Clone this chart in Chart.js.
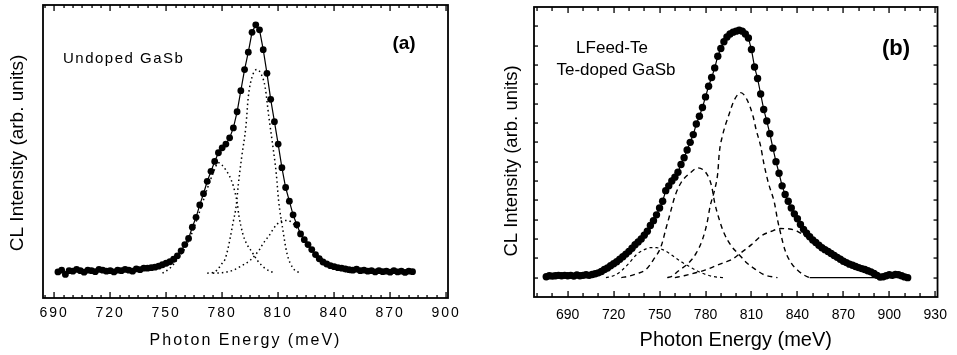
<!DOCTYPE html>
<html>
<head>
<meta charset="utf-8">
<script src="https://cdn.jsdelivr.net/npm/chart.js@4.4.1/dist/chart.umd.min.js"></script>
<style>
  html, body { margin: 0; padding: 0; background: #fff; }
  #wrap { position: relative; width: 957px; height: 355px; }
  canvas { position: absolute; top: 0; }
  #chartA { left: 0; }
  #chartB { left: 478px; }
</style>
</head>
<body>
<div id="wrap">
  <canvas id="chartA" width="478" height="355"></canvas>
  <canvas id="chartB" width="479" height="355"></canvas>
</div>
<script>
// ---- panel (a): undoped GaSb ----
const undopedE = [692,694,696,698,700,702,704,706,708,710,712,714,716,718,720,722,724,726,728,730,
  732,734,736,738,740,742,744,746,748,750,752,754,756,758,760,762,764,766,768,770,
  772,774,776,778,780,782,784,786,788,790,792,794,796,798,800,802,804,806,808,810,
  812,814,816,818,820,822,824,826,828,830,832,834,836,838,840,842,844,846,848,850,
  852,854,856,858,860,862,864,866,868,870,872,874,876,878,880,882];
const undopedCL = [0.05,0.12,-0.05,0.1,0.08,0.15,0.1,0.04,0.12,0.1,0.06,0.15,0.12,0.08,0.1,0.05,0.12,0.1,0.15,0.12,
  0.08,0.17,0.14,0.2,0.2,0.22,0.24,0.28,0.34,0.4,0.46,0.56,0.7,0.9,1.15,1.4,1.85,2.25,2.75,3.2,
  3.7,4.1,4.5,4.85,5.05,5.2,5.45,5.85,6.5,7.35,8.2,8.9,9.7,10.0,9.8,9.0,8.05,7.0,6.1,5.2,
  4.25,3.45,2.9,2.35,1.95,1.58,1.35,1.15,0.95,0.75,0.58,0.45,0.37,0.3,0.26,0.22,0.2,0.17,0.14,0.12,
  0.16,0.1,0.12,0.08,0.1,0.05,0.1,0.06,0.08,0.04,0.1,0.05,0.08,0.03,0.08,0.06];
// fitted bands (dotted)
const bandA1E = [748,752,756,760,764,768,772,775,778,780,782,784,786,788,789,791,793,796,799,803,808];
const bandA1  = [0,0.2,0.55,1.0,1.65,2.5,3.4,4.0,4.45,4.35,4.15,3.9,3.5,2.85,2.3,1.6,1.2,0.85,0.5,0.19,0];
const bandA2E = [772,776,778,780,781.5,783,784.5,786,787.5,788.7,790.5,792.7,794,796,798.6,801,803,805,807,809,810.2,812.5,814.7,818,822];
const bandA2  = [0,0.05,0.19,0.4,0.55,0.95,1.5,2.1,2.7,3.6,4.7,5.9,7.1,7.9,8.2,8.0,7.5,6.3,5.2,4.0,2.95,1.75,0.8,0.2,0];
const bandA3E = [775,780,786,790,795,800,802,805,809,812,815,818,821,824,827,830,834,838,842,846,850];
const bandA3  = [0,0.02,0.12,0.28,0.52,0.95,1.2,1.5,1.94,2.1,2.12,2.0,1.72,1.4,1.1,0.82,0.55,0.32,0.17,0.07,0];
const ticksA = [690,720,750,780,810,840,870,900];

// ---- panel (b): LFeed-Te, Te-doped GaSb ----
const dopedE = [676,678,680,682,684,686,688,690,692,694,696,698,700,702,704,706,708,710,712,714,
  716,718,720,722,724,726,728,730,732,734,736,738,740,742,744,746,748,750,752,754,
  756,758,760,762,764,766,768,770,772,774,776,778,780,782,784,786,788,790,792,794,
  796,798,800,802,804,806,808,810,812,814,816,818,820,822,824,826,828,830,832,834,
  836,838,840,842,844,846,848,850,852,854,856,858,860,862,864,866,868,870,872,874,
  876,878,880,882,884,886,888,890,892,894,896,898,900,902,904,906,908,910,912];
const dopedCL = [0.05,0.1,0.08,0.1,0.12,0.1,0.12,0.1,0.12,0.08,0.14,0.1,0.12,0.15,0.12,0.16,0.2,0.25,0.32,0.42,
  0.5,0.62,0.72,0.82,0.95,1.08,1.22,1.36,1.52,1.7,1.85,2.0,2.2,2.4,2.7,2.95,3.25,3.6,3.95,4.5,
  4.75,5.0,5.2,5.45,5.85,6.2,6.6,7.0,7.4,7.95,8.35,8.8,9.35,9.9,10.35,10.85,11.45,11.85,12.2,12.45,
  12.6,12.7,12.75,12.8,12.75,12.6,12.4,11.8,10.9,10.3,9.5,8.7,8.1,7.45,6.7,6.0,5.4,4.75,4.3,3.95,
  3.6,3.3,3.05,2.75,2.5,2.3,2.12,1.95,1.82,1.68,1.55,1.45,1.35,1.25,1.15,1.05,0.95,0.85,0.78,0.7,
  0.64,0.58,0.52,0.47,0.42,0.36,0.3,0.22,0.12,0.03,0.05,0.1,0.15,0.12,0.16,0.15,0.1,0.04,0.0];
const bandB1E = [715,720,725,730,735,740,744,748,752,756,760,765,770,775,780,785,792];
const bandB1  = [0,0.1,0.35,0.75,1.2,1.45,1.55,1.55,1.45,1.28,1.05,0.78,0.55,0.33,0.17,0.06,0];
const bandB2E = [725,730,735,741,746,751,754,757,760,764,770,775,781,784,786,789,792,797,802,807,813,818,827];
const bandB2  = [0,0.08,0.2,0.41,0.93,1.62,2.49,3.35,4.21,4.91,5.42,5.68,5.34,4.73,3.87,3.0,2.32,1.62,1.19,0.76,0.41,0.16,0];
const bandB3E = [755,758,762,769,774,778,781,783,786,788,789,791,795,799,803,807,811,813,816,818,821,825,827,829,832,836,840,844,848];
const bandB3  = [0,0.07,0.33,0.76,1.28,1.97,2.83,3.69,4.56,5.42,6.46,7.32,8.36,9.22,9.57,9.22,8.36,7.67,6.8,5.94,4.91,3.87,3.0,2.3,1.4,0.75,0.4,0.15,0];
const bandB4E = [760,766,773,780,786,792,797,803,810,816,823,829,835,840,845,850];
const bandB4  = [0,0.1,0.24,0.4,0.59,0.78,0.93,1.28,1.71,2.14,2.4,2.54,2.52,2.4,2.15,1.85];
const baseB_E = [848,895];
const baseB   = [0,0];
const ticksB = [690,720,750,780,810,840,870,900,930];

Chart.defaults.font.family = '"Liberation Sans", Arial, sans-serif';
Chart.defaults.color = '#000';

const pts = (xs, ys) => xs.map((x, i) => ({ x, y: ys[i] }));

function dataSet(xs, ys, r){
  return { data: pts(xs, ys), borderColor: '#000', backgroundColor: '#000', borderWidth: 1.2,
    pointRadius: r, pointHoverRadius: r, pointBorderWidth: 0, pointBackgroundColor: '#000', tension: 0 };
}
function band(xs, ys, dash, w){
  return { data: pts(xs, ys), borderColor: '#000', borderWidth: w || 1.3, borderDash: dash,
    pointRadius: 0, cubicInterpolationMode: 'monotone' };
}

// inward ticks + box frame, drawn after everything else
function frameTicks(o){
  return {
    id: 'frameTicks',
    afterDraw(chart){
      const { ctx, chartArea: a } = chart;
      const x = chart.scales.x, y = chart.scales.y;
      ctx.save();
      ctx.setLineDash([]);
      ctx.globalAlpha = 1;
      ctx.fillStyle = '#000';
      for (let v = o.xFrom; v <= o.xTo; v += o.xMinor){
        const px = Math.round(x.getPixelForValue(v));
        const len = v % o.xMajor === 0 ? o.majorLen : o.minorLen;
        ctx.fillRect(px - 0.6, a.bottom - len, 1.3, len);
        ctx.fillRect(px - 0.6, a.top, 1.3, len);
      }
      if (o.yTicks){
        for (let v = o.yFrom; v <= o.yTo; v += 1){
          const py = Math.round(y.getPixelForValue(v));
          ctx.fillRect(a.left, py - 0.6, o.yLen, 1.3);
          ctx.fillRect(a.right - o.yLen, py - 0.6, o.yLen, 1.3);
        }
      }
      ctx.strokeStyle = '#000';
      ctx.lineWidth = o.frame;
      ctx.strokeRect(a.left, a.top, a.right - a.left, a.bottom - a.top);
      ctx.restore();
    }
  };
}

function xScale(min, max, tickVals, tickFont, tickPad, title, titleFont, titlePad, h){
  return {
    type: 'linear', min, max,
    afterBuildTicks: s => { s.ticks = tickVals.map(v => ({ value: v })); },
    afterFit: s => { s.height = h; },
    grid: { display: false, drawTicks: false },
    border: { display: false },
    ticks: { font: tickFont, padding: tickPad, maxRotation: 0, autoSkip: false, color: '#000' },
    title: { display: true, text: title, font: titleFont, padding: { top: 0, bottom: titlePad }, color: '#000' }
  };
}
function yScale(min, max, w){
  return {
    type: 'linear', min, max,
    afterFit: s => { s.width = w; },
    grid: { display: false, drawTicks: false },
    border: { display: false },
    ticks: { display: false },
    title: { display: false }
  };
}

// panel (a) uses a wide-tracked font
const trackA = {
  id: 'trackA',
  beforeUpdate(chart){ chart.ctx.letterSpacing = '2px'; },
  beforeDraw(chart){ chart.ctx.letterSpacing = '2px'; },
  afterDraw(chart){
    const ctx = chart.ctx;
    ctx.save();
    ctx.fillStyle = '#000';
    ctx.letterSpacing = '0px';
    ctx.font = '19px "Liberation Sans", Arial, sans-serif';
    ctx.textAlign = 'center';
    ctx.textBaseline = 'middle';
    ctx.save();
    ctx.translate(18, 153);
    ctx.rotate(-Math.PI / 2);
    ctx.fillText('CL Intensity (arb. units)', 0, 0);
    ctx.restore();
    ctx.font = 'bold 19px "Liberation Sans", Arial, sans-serif';
    ctx.fillText('(a)', 404, 44);
    ctx.letterSpacing = '1.5px';
    ctx.font = '15px "Liberation Sans", Arial, sans-serif';
    ctx.textAlign = 'left';
    ctx.textBaseline = 'alphabetic';
    ctx.fillText('Undoped GaSb', 63, 63);
    ctx.restore();
  }
};

const labelsB = {
  id: 'labelsB',
  afterDraw(chart){
    const ctx = chart.ctx;
    ctx.save();
    ctx.fillStyle = '#000';
    ctx.textAlign = 'center';
    ctx.textBaseline = 'middle';
    ctx.font = '18.5px "Liberation Sans", Arial, sans-serif';
    ctx.save();
    ctx.translate(34, 161);
    ctx.rotate(-Math.PI / 2);
    ctx.fillText('CL Intensity (arb. units)', 0, 0);
    ctx.restore();
    ctx.font = 'bold 22px "Liberation Sans", Arial, sans-serif';
    ctx.fillText('(b)', 418, 49);
    ctx.font = '17px "Liberation Sans", Arial, sans-serif';
    ctx.textBaseline = 'alphabetic';
    ctx.fillText('LFeed-Te', 134, 53);
    ctx.fillText('Te-doped GaSb', 138, 75);
    ctx.restore();
  }
};

new Chart(document.getElementById('chartA'), {
  type: 'line',
  data: { datasets: [
    band(bandA1E, bandA1, [1.5, 3], 1.5),
    band(bandA2E, bandA2, [1.5, 3], 1.5),
    band(bandA3E, bandA3, [1.5, 3], 1.5),
    dataSet(undopedE, undopedCL, 3.4)
  ]},
  options: {
    responsive: false, animation: false, devicePixelRatio: 1,
    layout: { padding: { left: 0, right: 30, top: 5, bottom: 0 } },
    plugins: { legend: { display: false }, tooltip: { enabled: false } },
    scales: {
      x: xScale(684, 901, ticksA, { size: 14 }, 7, 'Photon Energy (meV)', { size: 16 }, 5, 57),
      y: yScale(-1, 10.8, 43)
    }
  },
  plugins: [trackA, frameTicks({ xFrom: 685, xTo: 900, xMinor: 5, xMajor: 30, majorLen: 6, minorLen: 3, frame: 1.8, yTicks: false })]
});

new Chart(document.getElementById('chartB'), {
  type: 'line',
  data: { datasets: [
    band(bandB1E, bandB1, [3, 3], 1.2),
    band(bandB2E, bandB2, [5, 4], 1.4),
    band(bandB3E, bandB3, [5, 4], 1.4),
    band(bandB4E, bandB4, [5, 4], 1.4),
    band(baseB_E, baseB, [], 1.2),
    dataSet(dopedE, dopedCL, 3.7)
  ]},
  options: {
    responsive: false, animation: false, devicePixelRatio: 1,
    layout: { padding: { left: 0, right: 15, top: 7, bottom: 0 } },
    plugins: { legend: { display: false }, tooltip: { enabled: false } },
    scales: {
      x: xScale(668, 931.5, ticksB, { size: 14 }, 10, 'Photon Energy (meV)', { size: 20 }, 3, 58),
      y: yScale(-1, 14, 56)
    }
  },
  plugins: [labelsB, frameTicks({ xFrom: 670, xTo: 930, xMinor: 10, xMajor: 30, majorLen: 6, minorLen: 4, frame: 1.8,
    yTicks: true, yFrom: 0, yTo: 13, yLen: 4 })]
});
</script>
</body>
</html>
